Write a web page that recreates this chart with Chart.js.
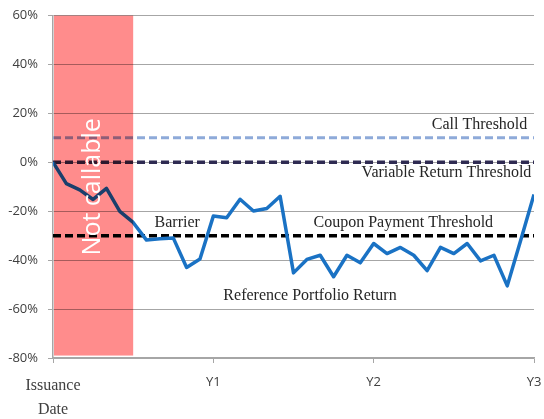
<!DOCTYPE html>
<html>
<head>
<meta charset="utf-8">
<script src="https://cdn.jsdelivr.net/npm/chart.js@4.4.1/dist/chart.umd.min.js"></script>
<style>
  body { margin: 0; background: #fff; }
</style>
</head>
<body>
<canvas id="returnChart" width="544" height="419"></canvas>
<script>
// months since issuance
const months = [0, 1, 2, 3, 4, 5, 6, 7, 8, 9, 10, 11, 12, 13, 14, 15, 16, 17, 18,
  19, 20, 21, 22, 23, 24, 25, 26, 27, 28, 29, 30, 31, 32, 33, 34, 35, 36];
const portfolioReturn = [0, -8.7, -11.3, -15.2, -10.7, -20.1, -24.6, -31.8, -31.3, -30.9,
  -43, -39.5, -22, -22.7, -15.1, -19.9, -18.9, -13.9, -45.2, -39.7, -38, -46.8, -38,
  -41.1, -33.2, -37.3, -34.8, -38, -44.3, -34.8, -37.3, -33.2, -40.3, -38, -50.5, -32, -13.2];

const callThreshold = 10;
const variableReturnThreshold = 0;
const couponThreshold = -30;

// not callable window (months) and its vertical span (%)
const notCallableMonths = [0, 6];
const notCallableSpan = [-79, 60];

const xTickMonths = [0, 12, 24, 36];
const xTickLabels = [['Issuance', 'Date'], 'Y1', 'Y2', 'Y3'];
const yTicks = [-80, -60, -40, -20, 0, 20, 40, 60];

const first = months[0], last = months[months.length - 1];
const flat = v => [{ x: first, y: v }, { x: last, y: v }];

const serif = '"Liberation Serif", "Times New Roman", serif';
const sans = '"Open Sans", sans-serif';

// text placed on the chart, anchored in data coordinates
const notes = [
  { text: 'Call Threshold', x: 35.5, y: 13.7, align: 'right' },
  { text: 'Variable Return Threshold', x: 35.8, y: -6, align: 'right' },
  { text: 'Coupon Payment Threshold', x: 19.5, y: -26.4, align: 'left' },
  { text: 'Barrier', x: 7.6, y: -26.6, align: 'left' },
  { text: 'Reference Portfolio Return', x: 12.75, y: -56.3, align: 'left' }
];

const overlay = {
  id: 'overlay',
  beforeDraw(chart) {
    const c = chart.ctx;
    c.save();
    c.fillStyle = '#fff';
    c.fillRect(0, 0, chart.width, chart.height);
    c.restore();
  },
  afterDatasetsDraw(chart) {
    const c = chart.ctx, xs = chart.scales.x, ys = chart.scales.y;
    const x0 = xs.getPixelForValue(notCallableMonths[0]) + 1;
    const x1 = xs.getPixelForValue(notCallableMonths[1]);
    const y0 = ys.getPixelForValue(notCallableSpan[1]);
    const y1 = ys.getPixelForValue(notCallableSpan[0]);
    c.save();
    c.globalCompositeOperation = 'multiply';
    c.fillStyle = '#ff8c8c';
    c.fillRect(x0, y0, x1 - x0, y1 - y0);
    c.restore();

    c.save();
    c.font = '16px ' + serif;
    c.fillStyle = '#262626';
    c.textBaseline = 'alphabetic';
    notes.forEach(n => {
      c.textAlign = n.align;
      c.fillText(n.text, xs.getPixelForValue(n.x), ys.getPixelForValue(n.y));
    });
    // rotated label on the red band
    c.translate(xs.getPixelForValue(3), ys.getPixelForValue(-10));
    c.rotate(-Math.PI / 2);
    c.font = '25px ' + sans;
    c.fillStyle = '#fff';
    c.textAlign = 'center';
    c.textBaseline = 'middle';
    c.fillText('Not callable', 0, 0);
    c.restore();
  }
};

new Chart(document.getElementById('returnChart'), {
  type: 'line',
  data: {
    datasets: [
      {
        label: 'Reference Portfolio Return',
        data: months.map((m, i) => ({ x: m, y: portfolioReturn[i] })),
        borderColor: '#1a72c4',
        borderWidth: 3.5,
        borderJoinStyle: 'round',
        pointRadius: 0,
        tension: 0,
        order: 0
      },
      {
        label: 'Call Threshold',
        data: flat(callThreshold),
        borderColor: '#8eaad9',
        borderWidth: 3,
        borderDash: [8, 4],
        pointRadius: 0,
        order: 1
      },
      {
        label: 'Variable Return Threshold',
        data: flat(variableReturnThreshold),
        borderColor: '#2f2b52',
        borderWidth: 3.5,
        borderDash: [8, 4],
        pointRadius: 0,
        order: 1
      },
      {
        label: 'Coupon Payment Threshold',
        data: flat(couponThreshold),
        borderColor: '#000',
        borderWidth: 3.5,
        borderDash: [8, 4],
        pointRadius: 0,
        order: 1
      }
    ]
  },
  options: {
    responsive: false,
    animation: false,
    layout: { padding: { top: 15.5, right: 10, bottom: 0, left: 0 } },
    plugins: {
      legend: { display: false },
      tooltip: { enabled: false }
    },
    scales: {
      x: {
        type: 'linear',
        min: first,
        max: last,
        afterFit: s => { s.height = 61; s.paddingLeft = 0; s.paddingRight = 0; },
        afterBuildTicks: s => { s.ticks = xTickMonths.map(v => ({ value: v })); },
        grid: { drawOnChartArea: false, tickLength: 5, color: '#a6a6a6' },
        border: { color: '#a6a6a6', width: 1.5 },
        ticks: {
          padding: 11,
          maxRotation: 0,
          autoSkip: false,
          color: '#404040',
          font: ctx => (ctx.tick && ctx.tick.value === 0)
            ? { family: serif, size: 16, lineHeight: 1.5 }
            : { family: sans, size: 13 },
          callback: v => {
            const i = xTickMonths.indexOf(v);
            return i >= 0 ? xTickLabels[i] : '';
          }
        }
      },
      y: {
        min: yTicks[0],
        max: yTicks[yTicks.length - 1],
        afterFit: s => { s.width = 53; s.paddingTop = 0; s.paddingBottom = 0; },
        grid: { tickLength: 5, color: '#a6a6a6' },
        border: { color: '#a6a6a6', width: 1.5 },
        ticks: {
          stepSize: 20,
          padding: 10,
          color: '#404040',
          font: { family: sans, size: 13 },
          callback: v => v + '%'
        }
      }
    }
  },
  plugins: [overlay]
});
</script>
</body>
</html>
